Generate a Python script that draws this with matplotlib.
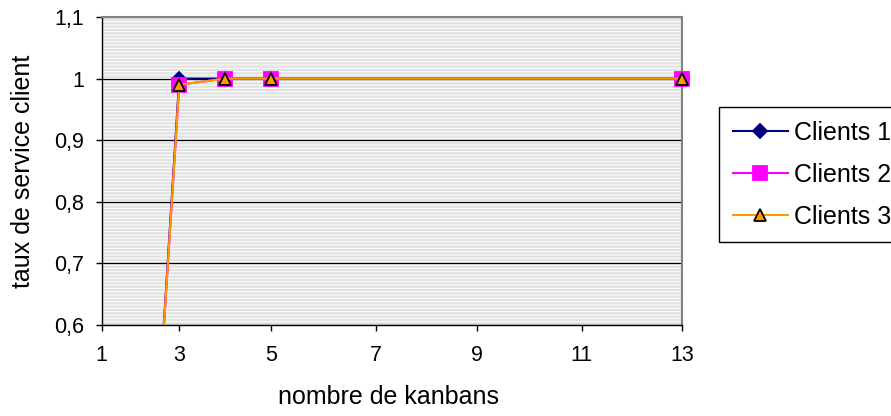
import numpy as np
import matplotlib

matplotlib.use('agg')
import matplotlib.pyplot as plt
from matplotlib.patches import Rectangle
from matplotlib.transforms import Bbox, TransformedBbox

# data
kanbans = [2, 3, 4, 5, 13]
clients1 = [0.0, 1.0, 1.0, 1.0, 1.0]
clients2 = [0.0, 0.99, 1.0, 1.0, 1.0]
clients3 = [0.0, 0.99, 1.0, 1.0, 1.0]
xticks = [1, 3, 5, 7, 9, 11, 13]
yticks = [0.6, 0.7, 0.8, 0.9, 1.0, 1.1]

# the original x axis is not evenly spaced: where each tick sits (axis fraction)
tick_frac = np.array([0, 0.1337, 0.2917, 0.4721, 0.6472, 0.8271, 1.0])
tick_pos = 1 + 12 * tick_frac


def fwd(v):
    return np.interp(v, xticks, tick_pos)


def inv(v):
    return np.interp(v, tick_pos, xticks)


plt.rcParams['font.family'] = ['Liberation Sans', 'DejaVu Sans']

fig = plt.figure(figsize=(8.91, 4.16), dpi=100)
ax = fig.add_axes([101.7 / 891, 1 - 325 / 416, (682 - 101.7) / 891, (325 - 17) / 416])
ax.set_xscale('function', functions=(fwd, inv))

# excel pattern fill
ax.set_facecolor('#e2e2e2')
plt.rcParams['hatch.linewidth'] = 0.7
ax.add_patch(Rectangle((0, 0), 1, 1, transform=ax.transAxes, facecolor='none',
                       edgecolor='white', hatch='-----', lw=0, zorder=0.1))

clip = TransformedBbox(Bbox([[-0.05, 0], [1.05, 1.05]]), ax.transAxes)

series = [
    (clients1, 'Clients 1', '#000080', 'D', '#000080', '#000080', 7),
    (clients2, 'Clients 2', '#FF00FF', 's', '#FF00FF', '#FF00FF', 10),
    (clients3, 'Clients 3', '#FF9900', '^', '#FF9900', 'black', 9),
]
for vals, name, col, mk, fc, ec, ms in series:
    ln, = ax.plot(kanbans, vals, color=col, lw=1.5, marker=mk, markersize=ms,
                  markerfacecolor=fc, markeredgecolor=ec, markeredgewidth=1.3,
                  label=name, zorder=3)
    ln.set_clip_box(clip)

ax.set_xlim(1, 13)
ax.set_ylim(0.6, 1.1)
ax.set_xticks(xticks)
ax.set_xticklabels([str(t) for t in xticks])
ax.set_yticks(yticks)
ax.set_yticklabels([('%g' % t).replace('.', ',') for t in yticks])
ax.xaxis.set_minor_locator(matplotlib.ticker.NullLocator())

ax.grid(axis='y', color='black', lw=0.9)
ax.grid(axis='x', visible=False)
ax.tick_params(axis='both', direction='out', length=4.5, width=1, labelsize=15.5,
               colors='black')
ax.tick_params(axis='x', pad=10)
ax.tick_params(axis='y', pad=8)

for s in ['left', 'bottom']:
    ax.spines[s].set_color('black')
    ax.spines[s].set_linewidth(1)
for s in ['top', 'right']:
    ax.spines[s].set_color('#808080')
    ax.spines[s].set_linewidth(1.5)

fig.text(23 / 891, 1 - 171 / 416, 'taux de service client', rotation=90,
         ha='center', va='center', fontsize=18)
fig.text(388 / 891, 1 - 397 / 416, 'nombre de kanbans', ha='center',
         va='center', fontsize=18)

leg = fig.legend(loc='upper left', bbox_to_anchor=(719 / 891, 1 - 107 / 416),
                 fontsize=18, frameon=True, fancybox=False, framealpha=1,
                 edgecolor='black', handlelength=2.2, handletextpad=0.25,
                 labelspacing=0.72, borderpad=0.54, borderaxespad=0)
leg.get_frame().set_linewidth(1)

fig.savefig('out.png', dpi=100)
